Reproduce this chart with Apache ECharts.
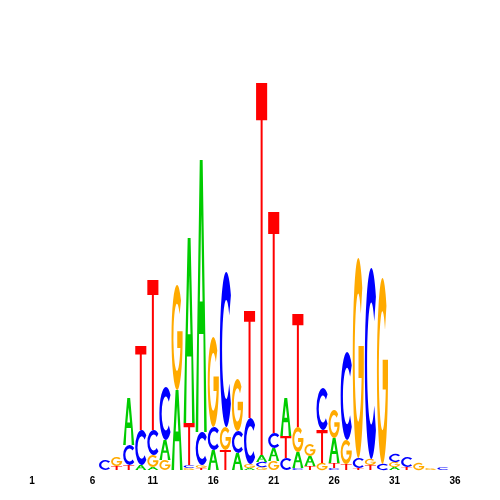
<!DOCTYPE html>
<html>
<head>
<meta charset="utf-8">
<script src="https://cdn.jsdelivr.net/npm/echarts@6/dist/echarts.min.js"></script>
<style>
  html, body { margin: 0; padding: 0; background: #fff; }
  #logo { width: 500px; height: 500px; }
</style>
</head>
<body>
<div id="logo"></div>
<script>
// positions 1..36
const positions = Array.from({ length: 36 }, (_, i) => String(i + 1));

// letter heights per position
const heightA = [0, 0, 0, 0, 0, 0, 0, 0, 0.47, 0.05, 0.03, 0.20, 0.80, 1.85, 2.72, 0.20, 0, 0.17, 0.02, 0.07, 0.13, 0.38, 0.16, 0.10, 0, 0.25, 0, 0, 0, 0, 0.03, 0, 0, 0, 0, 0];
const heightC = [0, 0, 0, 0, 0, 0, 0.10, 0, 0.20, 0.35, 0.25, 0.53, 0, 0.03, 0.33, 0.23, 1.55, 0.22, 0.46, 0.05, 0.15, 0.12, 0.02, 0, 0.42, 0.02, 0.88, 0.10, 1.91, 0.06, 0.08, 0.10, 0, 0, 0.03, 0];
const heightG = [0, 0, 0, 0, 0, 0, 0, 0.09, 0, 0, 0.12, 0.10, 1.05, 0.02, 0.03, 0.90, 0.23, 0.52, 0.04, 0.03, 0.09, 0, 0.25, 0.12, 0.07, 0.28, 0.24, 2.00, 0.06, 1.86, 0.05, 0, 0.07, 0.02, 0, 0];
const heightT = [0, 0, 0, 0, 0, 0, 0, 0.04, 0.05, 0.84, 1.50, 0, 0, 0.42, 0.02, 0, 0.20, 0, 1.07, 3.72, 2.21, 0.22, 1.13, 0.04, 0.33, 0.05, 0.06, 0.02, 0.05, 0, 0, 0.03, 0, 0, 0, 0];

const letters = [
  { name: 'A', heights: heightA, color: '#00cc00',
    d: 'M0,100 L37,0 L63,0 L100,100 L77,100 L70,64 L30,64 L23,100 Z M38,52 L62,52 L50,20 Z' },
  { name: 'C', heights: heightC, color: '#0000ff',
    d: 'M86,15 A50,50 0 1,0 86,85 L73,72 A32,32 0 1,1 73,28 Z' },
  { name: 'G', heights: heightG, color: '#ffaa00',
    d: 'M86,15 A50,50 0 1,0 100,56 L100,44 L52,44 L52,60 L80,60 A32,32 0 1,1 73,28 Z' },
  { name: 'T', heights: heightT, color: '#ff0000',
    d: 'M0,0 L100,0 L100,10 L59,10 L59,100 L41,100 L41,10 L0,10 Z' }
];

const chart = echarts.init(document.getElementById('logo'));

function renderColumn(params, api) {
  const idx = api.value(0);
  const band = api.size([1, 0])[0];
  const stack = letters
    .map(l => ({ l: l, h: l.heights[idx] }))
    .filter(s => s.h > 0)
    .sort((a, b) => a.h - b.h);
  const children = [];
  let base = 0;
  stack.forEach(s => {
    const p0 = api.coord([idx, base]);
    const p1 = api.coord([idx, base + s.h]);
    children.push({
      type: 'path',
      shape: {
        pathData: s.l.d,
        layout: 'cover',
        x: p0[0] - band / 2 + 0.5,
        y: p1[1],
        width: band - 1,
        height: p0[1] - p1[1]
      },
      style: { fill: s.l.color }
    });
    base += s.h;
  });
  return { type: 'group', children: children };
}

chart.setOption({
  animation: false,
  grid: { left: 26, right: 39, top: 70, bottom: 30 },
  xAxis: {
    type: 'category',
    data: positions,
    axisLine: { show: false },
    axisTick: { show: false },
    axisLabel: {
      interval: (i) => i % 5 === 0,
      margin: 6,
      color: '#000',
      fontSize: 10,
      fontWeight: 'bold',
      fontFamily: 'Liberation Sans'
    }
  },
  yAxis: {
    type: 'value',
    min: 0,
    max: 4,
    show: false
  },
  series: [{
    type: 'custom',
    renderItem: renderColumn,
    data: positions.map((_, i) => [i]),
    encode: { x: 0 }
  }]
});
</script>
</body>
</html>
